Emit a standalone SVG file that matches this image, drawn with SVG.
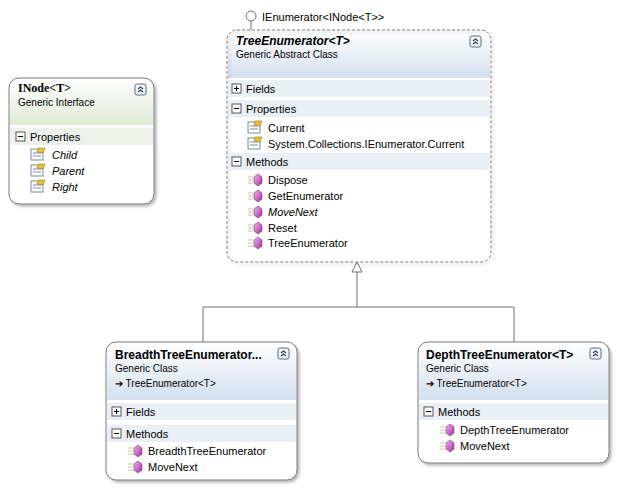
<svg xmlns="http://www.w3.org/2000/svg" width="619" height="493" viewBox="0 0 619 493">
<defs>
<linearGradient id="hb" x1="0" y1="0" x2="0" y2="1"><stop offset="0" stop-color="#ffffff"/><stop offset="1" stop-color="#d3dfef"/></linearGradient>
<linearGradient id="hg" x1="0" y1="0" x2="0" y2="1"><stop offset="0" stop-color="#ffffff"/><stop offset="1" stop-color="#dfe9d3"/></linearGradient>
<linearGradient id="gem" x1="0" y1="0" x2="1" y2="1"><stop offset="0" stop-color="#f0b8f0"/><stop offset="1" stop-color="#9a2f9a"/></linearGradient>
<filter id="sh" x="-10%" y="-10%" width="130%" height="130%"><feDropShadow dx="2" dy="2" stdDeviation="1.5" flood-color="#000" flood-opacity="0.3"/></filter>
<g id="prop"><rect x="0" y="0" width="12" height="11" fill="#fff" stroke="#7a8aa0"/><line x1="2" y1="4" x2="10" y2="4" stroke="#7a8aa0"/><line x1="2" y1="7" x2="10" y2="7" stroke="#7a8aa0"/><path d="M7 -1 L14 -1 L12 4 L6 3 Z" fill="#e8c040" stroke="#9a7a10" stroke-width="0.6"/></g>
<g id="meth"><line x1="0" y1="3" x2="5" y2="3" stroke="#c8c890"/><line x1="0" y1="6" x2="5" y2="6" stroke="#c8c890"/><line x1="0" y1="9" x2="5" y2="9" stroke="#c8c890"/><path d="M6 3 L10 0 L14 3 L14 9 L10 12 L6 9 Z" fill="url(#gem)" stroke="#8a2a8a" stroke-width="0.6"/></g>
<g id="col"><rect x="0" y="0" width="11" height="11" rx="2" fill="#f4f6fa" stroke="#5a6a80"/><path d="M3 5 L5.5 3 L8 5 M3 8 L5.5 6 L8 8" fill="none" stroke="#2a3a60" stroke-width="1.1"/></g>
<g id="plus"><rect x="0" y="0" width="9" height="9" fill="#fff" stroke="#555"/><line x1="2" y1="4.5" x2="7" y2="4.5" stroke="#000"/><line x1="4.5" y1="2" x2="4.5" y2="7" stroke="#000"/></g>
<g id="minus"><rect x="0" y="0" width="9" height="9" fill="#fff" stroke="#555"/><line x1="2" y1="4.5" x2="7" y2="4.5" stroke="#000"/></g>
</defs>
<style>
text{font-family:"Liberation Sans",Arial,sans-serif;font-size:11px;fill:#000}
.t{font-weight:bold;font-size:12px}
.s{font-size:10px}
.box{fill:#fff;stroke:#7a7a7a;stroke-width:1}
.row{fill:#eaeef5}
.rowg{fill:#eef1ea}
.i{font-style:italic}
</style>
<rect width="619" height="493" fill="#fff"/>
<g id="connectors" fill="none" stroke="#707070">
<circle cx="251" cy="16" r="5" fill="#fff"/>
<line x1="251" y1="21" x2="251" y2="30"/>
<path d="M357 272 V307 M203 342 V307 H514 V342"/>
<path d="M357 262 L352 272 L362 272 Z" fill="#fff"/>
</g>
<text x="262" y="21">IEnumerator&lt;INode&lt;T&gt;&gt;</text>
<g id="INode">
<rect x="9" y="78" width="145" height="126" rx="10" class="box" filter="url(#sh)"/>
<path d="M19 79 H144 A9 9 0 0 1 153 88 V125 H10 V88 A9 9 0 0 1 19 79 Z" fill="url(#hg)"/>
<text x="18" y="92" style="font-weight:bold;font-family:'Liberation Serif',serif;font-size:12px">INode&lt;T&gt;</text>
<text x="18" y="106" class="s">Generic Interface</text>
<use href="#col" x="135" y="84"/>
<rect x="10" y="128" width="143" height="17" class="rowg"/>
<use href="#minus" x="16" y="132"/><text x="30" y="141">Properties</text>
<use href="#prop" x="31" y="149"/><text x="52" y="159" class="i">Child</text>
<use href="#prop" x="31" y="165"/><text x="52" y="175" class="i">Parent</text>
<use href="#prop" x="31" y="181"/><text x="52" y="191" class="i">Right</text>
</g>
<g id="TreeEnumerator">
<path d="M237 31 H481 A9 9 0 0 1 490 40 V78 H228 V40 A9 9 0 0 1 237 31 Z" fill="url(#hb)"/>
<rect x="227" y="30" width="264" height="232" rx="10" fill="none" stroke="#7a7a7a" stroke-dasharray="3,2" filter="url(#sh)"/>
<text x="236" y="45" class="t i">TreeEnumerator&lt;T&gt;</text>
<text x="236" y="58" class="s">Generic Abstract Class</text>
<use href="#col" x="470" y="36"/>
<rect x="228" y="80" width="262" height="17" class="row"/>
<use href="#plus" x="232" y="84"/><text x="246" y="93">Fields</text>
<rect x="228" y="100" width="262" height="17" class="row"/>
<use href="#minus" x="232" y="104"/><text x="246" y="113">Properties</text>
<use href="#prop" x="248" y="122"/><text x="268" y="132">Current</text>
<use href="#prop" x="248" y="138"/><text x="268" y="148">System.Collections.IEnumerator.Current</text>
<rect x="228" y="153" width="262" height="17" class="row"/>
<use href="#minus" x="232" y="157"/><text x="246" y="166">Methods</text>
<use href="#meth" x="248" y="174"/><text x="268" y="184">Dispose</text>
<use href="#meth" x="248" y="190"/><text x="268" y="200">GetEnumerator</text>
<use href="#meth" x="248" y="206"/><text x="268" y="216" class="i">MoveNext</text>
<use href="#meth" x="248" y="222"/><text x="268" y="232">Reset</text>
<use href="#meth" x="248" y="237"/><text x="268" y="247">TreeEnumerator</text>
</g>
<g id="Breadth">
<rect x="106" y="342" width="191" height="138" rx="10" class="box" filter="url(#sh)"/>
<path d="M116 343 H287 A9 9 0 0 1 296 352 V400 H107 V352 A9 9 0 0 1 116 343 Z" fill="url(#hb)"/>
<text x="115" y="359" class="t">BreadthTreeEnumerator...</text>
<text x="115" y="372" class="s">Generic Class</text>
<text x="115" y="387" class="s">➔ TreeEnumerator&lt;T&gt;</text>
<use href="#col" x="278" y="348"/>
<rect x="107" y="403" width="189" height="17" class="row"/>
<use href="#plus" x="112" y="407"/><text x="126" y="416">Fields</text>
<rect x="107" y="425" width="189" height="17" class="row"/>
<use href="#minus" x="112" y="429"/><text x="126" y="438">Methods</text>
<use href="#meth" x="128" y="445"/><text x="148" y="455">BreadthTreeEnumerator</text>
<use href="#meth" x="128" y="461"/><text x="148" y="471">MoveNext</text>
</g>
<g id="Depth">
<rect x="418" y="342" width="191" height="121" rx="10" class="box" filter="url(#sh)"/>
<path d="M428 343 H599 A9 9 0 0 1 608 352 V400 H419 V352 A9 9 0 0 1 428 343 Z" fill="url(#hb)"/>
<text x="426" y="359" class="t">DepthTreeEnumerator&lt;T&gt;</text>
<text x="426" y="372" class="s">Generic Class</text>
<text x="426" y="387" class="s">➔ TreeEnumerator&lt;T&gt;</text>
<use href="#col" x="590" y="348"/>
<rect x="419" y="403" width="189" height="17" class="row"/>
<use href="#minus" x="424" y="407"/><text x="438" y="416">Methods</text>
<use href="#meth" x="440" y="424"/><text x="460" y="434">DepthTreeEnumerator</text>
<use href="#meth" x="440" y="440"/><text x="460" y="450">MoveNext</text>
</g>
</svg>
